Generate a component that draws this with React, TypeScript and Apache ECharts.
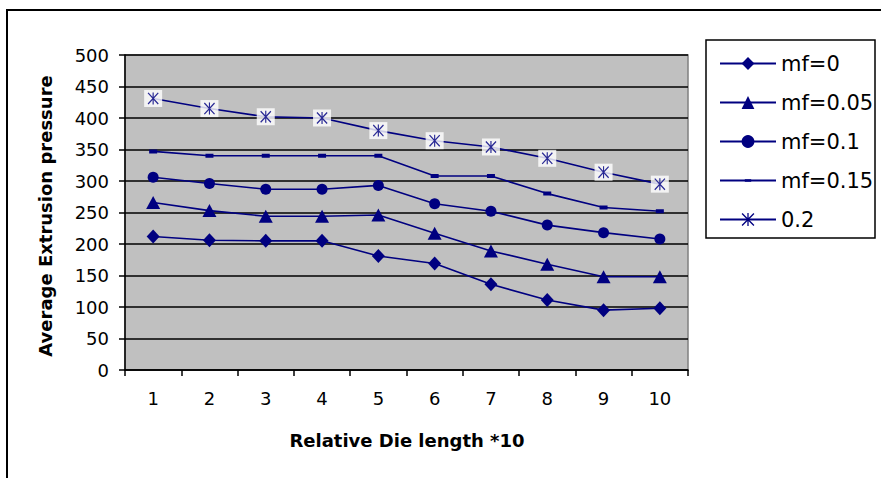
import React, { useEffect, useRef } from "react";
import * as echarts from "echarts";

const categories = ["1", "2", "3", "4", "5", "6", "7", "8", "9", "10"];
const seriesNames = ["mf=0", "mf=0.05", "mf=0.1", "mf=0.15", "0.2"];
const mf0 = [212, 206, 205, 205, 181, 169, 136, 111, 95, 98];
const mf005 = [266, 253, 244, 244, 246, 217, 189, 168, 148, 148];
const mf01 = [306, 296, 287, 287, 293, 264, 252, 230, 218, 208];
const mf015 = [347, 340, 340, 340, 340, 308, 308, 280, 258, 252];
const mf02 = [431, 415, 402, 400, 380, 364, 354, 336, 314, 295];
const yTicks = { min: 0, max: 500, interval: 50 };
const xTitle = "Relative Die length *10";
const yTitle = "Average Extrusion pressure";

const NAVY = "#000080";
const FONT = "DejaVu Sans";
const ASTERISK =
  "path://M9 0 H11 V20 H9 Z M0 1.5 L1.5 0 L20 18.5 L18.5 20 Z M18.5 0 L20 1.5 L1.5 20 L0 18.5 Z";
const DASH = "path://M0 0 L0.01 0 Z M20 20 L19.99 20 Z M5 8 H15 V12 H5 Z";

export default function App() {
  const ref = useRef<HTMLDivElement>(null);
  useEffect(() => {
    if (!ref.current) return;
    const chart = echarts.init(ref.current, null, { renderer: "svg" });
    const lineBase = (name: string, data: number[], symbol: string, size: any) => ({
      name,
      type: "line",
      data,
      symbol,
      symbolSize: size,
      showSymbol: true,
      z: 2,
      lineStyle: { color: NAVY, width: 1.6 },
      itemStyle: { color: NAVY },
    });
    chart.setOption({
      animation: false,
      backgroundColor: "#ffffff",
      grid: {
        left: 125,
        top: 55,
        right: 881 - 688,
        bottom: 478 - 370,
        show: true,
        backgroundColor: "#c0c0c0",
        borderColor: "#808080",
        borderWidth: 1.5,
      },
      legend: {
        data: seriesNames,
        orient: "vertical",
        left: 719,
        top: 53,
        padding: 0,
        itemWidth: 56,
        itemHeight: 16,
        itemGap: 18,
        textStyle: { fontFamily: FONT, fontSize: 21, color: "#000" },
      },
      xAxis: {
        type: "category",
        data: categories,
        boundaryGap: true,
        axisLine: { lineStyle: { color: "#000", width: 1.5 } },
        axisTick: { show: true, length: 6, lineStyle: { color: "#000", width: 1.5 } },
        axisLabel: { fontFamily: FONT, fontSize: 18, color: "#000", margin: 19 },
        splitLine: { show: false },
      },
      yAxis: {
        type: "value",
        min: yTicks.min,
        max: yTicks.max,
        interval: yTicks.interval,
        axisLine: { show: true, lineStyle: { color: "#000", width: 1.5 } },
        axisTick: { show: true, length: 6, lineStyle: { color: "#000", width: 1.5 } },
        axisLabel: { fontFamily: FONT, fontSize: 18, color: "#000", margin: 16 },
        splitLine: { show: true, lineStyle: { color: "#000", width: 1.5 } },
      },
      graphic: [
        {
          type: "rect",
          shape: { x: 7, y: 10, width: 900, height: 500 },
          style: { fill: "none", stroke: "#000", lineWidth: 2 },
          z: -10,
        },
        {
          type: "rect",
          shape: { x: 706, y: 40, width: 169, height: 198 },
          style: { fill: "#fff", stroke: "#000", lineWidth: 1.5 },
          z: -5,
        },
        {
          type: "text",
          x: 407,
          y: 440,
          style: {
            text: xTitle,
            fontFamily: FONT,
            fontWeight: "bold",
            fontSize: 18,
            fill: "#000",
            align: "center",
            verticalAlign: "middle",
          },
        },
        {
          type: "text",
          x: 45,
          y: 216,
          rotation: Math.PI / 2,
          style: {
            text: yTitle,
            fontFamily: FONT,
            fontWeight: "bold",
            fontSize: 18,
            fill: "#000",
            align: "center",
            verticalAlign: "middle",
          },
        },
      ],
      series: [
        lineBase("mf=0", mf0, "diamond", [13, 14]),
        lineBase("mf=0.05", mf005, "triangle", [14, 13]),
        lineBase("mf=0.1", mf01, "circle", 11),
        lineBase("mf=0.15", mf015, DASH, [16, 20]),
        lineBase("0.2", mf02, ASTERISK, [11, 12]),
        {
          name: "0.2 box",
          type: "scatter",
          data: mf02,
          symbol: "rect",
          symbolSize: [18, 17],
          itemStyle: { color: "#ffffff" },
          z: 3,
        },
        {
          name: "0.2 mark",
          type: "scatter",
          data: mf02,
          symbol: ASTERISK,
          symbolSize: [11, 12],
          itemStyle: { color: NAVY },
          z: 4,
        },
      ],
    });
    return () => chart.dispose();
  }, []);
  return (
    <div
      ref={ref}
      style={{ position: "fixed", left: 0, top: 0, width: 881, height: 478, background: "#fff" }}
    />
  );
}
